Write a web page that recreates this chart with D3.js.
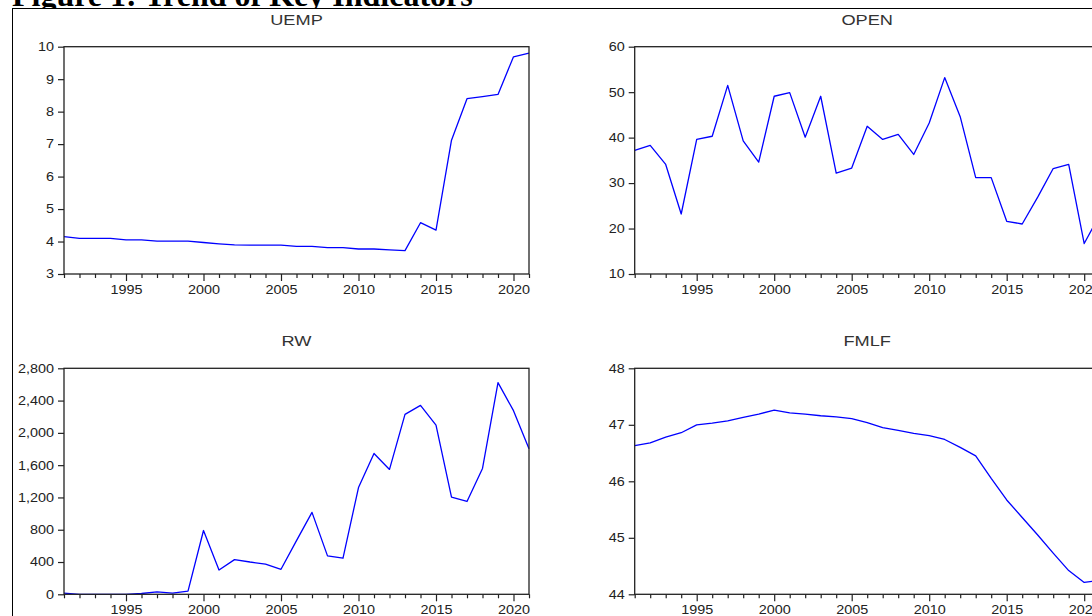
<!DOCTYPE html>
<html>
<head>
<meta charset="utf-8">
<script src="https://cdn.jsdelivr.net/npm/d3@7"></script>
<style>
  body { margin: 0; background: #fff; }
  svg { display: block; }
  .axis text { font-family: "Liberation Sans", Arial, sans-serif; font-size: 12px; fill: #222; }
  .axis line { stroke: #222; stroke-width: 1.2; }
  .ptitle { font-family: "Liberation Sans", Arial, sans-serif; font-size: 14px; fill: #333; }
</style>
</head>
<body>
<div id="chart"></div>
<script>
// data, 1991-2021
var years = d3.range(1991, 2022);
var uemp = [4.15, 4.10, 4.10, 4.10, 4.05, 4.05, 4.01, 4.01, 4.01, 3.97, 3.93, 3.90, 3.89, 3.89, 3.89,
    3.85, 3.85, 3.81, 3.81, 3.77, 3.77, 3.74, 3.72, 4.58, 4.35, 7.12, 8.40, 8.46, 8.53, 9.69, 9.80];
var open = [37.2, 38.3, 34.1, 23.2, 39.6, 40.3, 51.5, 39.3, 34.6, 49.1, 49.9, 40.1, 49.1, 32.2, 33.3,
    42.5, 39.6, 40.7, 36.3, 43.2, 53.2, 44.6, 31.2, 31.2, 21.6, 21.0, 26.9, 33.2, 34.1, 16.7, 23.0];
var rw = [15, 0, 0, 0, 0, 10, 30, 15, 40, 790, 300, 430, 400, 375, 310,
    665, 1015, 476, 447, 1323, 1745, 1547, 2229, 2341, 2097, 1205, 1150, 1559, 2622, 2275, 1803];
var fmlf = [46.63, 46.68, 46.78, 46.86, 47.00, 47.03, 47.07, 47.13, 47.19, 47.26, 47.21, 47.19, 47.16, 47.14, 47.11,
    47.04, 46.95, 46.90, 46.85, 46.81, 46.74, 46.60, 46.45, 46.05, 45.67, 45.36, 45.05, 44.73, 44.42, 44.21, 44.25];

var majorYears = [1995, 2000, 2005, 2010, 2015, 2020];
var uempTicks = [3, 4, 5, 6, 7, 8, 9, 10];
var openTicks = [10, 20, 30, 40, 50, 60];
var rwTicks = [0, 400, 800, 1200, 1600, 2000, 2400, 2800];
var fmlfTicks = [44, 45, 46, 47, 48];

var W = 1092, H = 616;
var svg = d3.select('#chart').append('svg').attr('width', W).attr('height', H);

// caption (cut at the top, descenders hidden by the figure)
svg.append('text')
    .attr('x', 12).attr('y', 6)
    .style('font-family', '"Liberation Serif", "Times New Roman", serif')
    .style('font-weight', 'bold').style('font-size', '32px')
    .text('Figure 1: Trend of Key Indicators');

// figure area with outer border
svg.append('rect').attr('x', 12.5).attr('y', 8.5).attr('width', W + 20).attr('height', H + 20)
    .attr('fill', '#fff').attr('stroke', '#000').attr('stroke-width', 1);

var panels = [
    {name: 'UEMP', values: uemp, ticks: uempTicks, fmt: d3.format('d'), x0: 64, y0: 46.7, y1: 274, ty: 25},
    {name: 'OPEN', values: open, ticks: openTicks, fmt: d3.format('d'), x0: 634.7, y0: 46.7, y1: 274, ty: 25},
    {name: 'RW', values: rw, ticks: rwTicks, fmt: d3.format(','), x0: 64, y0: 368.3, y1: 594.3, ty: 346},
    {name: 'FMLF', values: fmlf, ticks: fmlfTicks, fmt: d3.format('d'), x0: 634.7, y0: 368.3, y1: 594.3, ty: 346}
];
var plotW = 465;

function stretch(sel, k) {
    sel.attr('transform', function() {
        var x = +this.getAttribute('x') || 0;
        return 'translate(' + x + ',0) scale(' + k + ',1)';
    }).attr('x', 0);
}

panels.forEach(function(p) {
    var g = svg.append('g').attr('transform', 'translate(' + p.x0 + ',0)');
    var x = d3.scaleLinear().domain([1991, 2021]).range([0, plotW]);
    var y = d3.scaleLinear().domain(d3.extent(p.ticks)).range([p.y1, p.y0]);

    // title
    g.append('text').attr('class', 'ptitle')
        .attr('x', plotW / 2).attr('y', p.ty)
        .attr('text-anchor', 'middle')
        .attr('transform', 'translate(' + (plotW / 2) + ',0) scale(1.3,1) translate(' + (-plotW / 2) + ',0)')
        .text(p.name);

    // line
    var line = d3.line()
        .x(function(d, i) { return x(years[i]); })
        .y(function(d) { return y(d); });
    g.append('path').datum(p.values)
        .attr('fill', 'none').attr('stroke', '#0000ff')
        .attr('stroke-width', 1.3).attr('stroke-linejoin', 'round')
        .attr('d', line);

    // y axis
    var ya = g.append('g').attr('class', 'axis')
        .call(d3.axisLeft(y).tickValues(p.ticks).tickFormat(p.fmt).tickSize(6).tickPadding(4));
    ya.select('.domain').remove();
    stretch(ya.selectAll('text'), 1.2);

    // x axis: minor ticks each year, major every 5 years
    var xm = g.append('g').attr('class', 'axis').attr('transform', 'translate(0,' + p.y1 + ')')
        .call(d3.axisBottom(x).tickValues(years.filter(function(d) { return d % 5 !== 0; })).tickSize(4).tickFormat(''));
    xm.select('.domain').remove();
    var xa = g.append('g').attr('class', 'axis').attr('transform', 'translate(0,' + p.y1 + ')')
        .call(d3.axisBottom(x).tickValues(majorYears).tickFormat(d3.format('d')).tickSize(7).tickPadding(4));
    xa.select('.domain').remove();
    stretch(xa.selectAll('text'), 1.2);

    // frame
    g.append('rect')
        .attr('x', 0).attr('y', p.y0)
        .attr('width', plotW).attr('height', p.y1 - p.y0)
        .attr('fill', 'none').attr('stroke', '#222').attr('stroke-width', 1.3);
});
</script>
</body>
</html>
